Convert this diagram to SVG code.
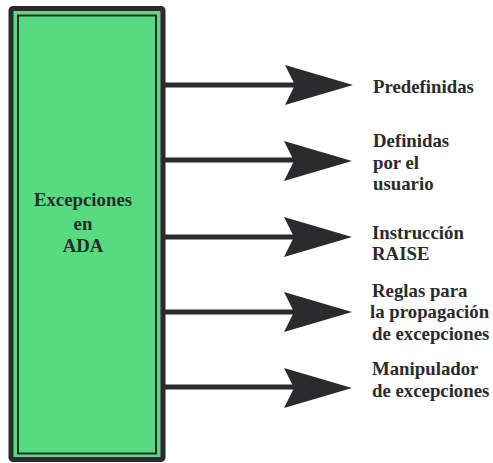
<svg xmlns="http://www.w3.org/2000/svg" width="493" height="463" viewBox="0 0 493 463">
<style>
.t{font-family:"Liberation Serif","Times New Roman",serif;font-weight:bold;font-size:18.8px;fill:#2b2b2e}
.ln{stroke:#2b2b2e;stroke-width:5;fill:none}
.hd{fill:#2b2b2e}
</style>
<defs>
<path id="ah" d="M0,-20 L68,0 L0,20 L10,0 Z"/>
</defs>
<rect x="0" y="0" width="493" height="463" fill="#ffffff"/>
<g id="node-main">
<rect x="11" y="8.5" width="152" height="451" fill="#58db80" stroke="#2b2b2e" stroke-width="5" rx="2"/>
<rect x="18" y="15.5" width="138" height="438" fill="none" stroke="#2b2b2e" stroke-width="2"/>
<text class="t" text-anchor="middle" x="83" y="206">Excepciones</text>
<text class="t" text-anchor="middle" x="83" y="230">en</text>
<text class="t" text-anchor="middle" x="83" y="252">ADA</text>
</g>
<g id="connectors">
<line class="ln" x1="163" y1="85" x2="295" y2="85"/>
<use href="#ah" class="hd" x="285" y="85"/>
<line class="ln" x1="163" y1="160" x2="295" y2="160"/>
<use href="#ah" class="hd" x="284" y="161"/>
<line class="ln" x1="163" y1="237" x2="295" y2="237"/>
<use href="#ah" class="hd" x="284" y="237"/>
<line class="ln" x1="163" y1="312" x2="295" y2="312"/>
<use href="#ah" class="hd" x="284" y="312"/>
<line class="ln" x1="163" y1="387" x2="295" y2="387"/>
<use href="#ah" class="hd" x="284" y="388"/>
</g>
<g id="node-predefinidas">
<text class="t" x="373" y="93">Predefinidas</text>
</g>
<g id="node-definidas">
<text class="t" x="373" y="147">Definidas</text>
<text class="t" x="373" y="169">por el</text>
<text class="t" x="373" y="190">usuario</text>
</g>
<g id="node-raise">
<text class="t" x="372" y="239">Instrucción</text>
<text class="t" x="372" y="260">RAISE</text>
</g>
<g id="node-reglas">
<text class="t" x="372" y="297">Reglas para</text>
<text class="t" x="370" y="318">la propagación</text>
<text class="t" x="372" y="340">de excepciones</text>
</g>
<g id="node-manipulador">
<text class="t" x="372" y="375">Manipulador</text>
<text class="t" x="372" y="397">de excepciones</text>
</g>
</svg>
